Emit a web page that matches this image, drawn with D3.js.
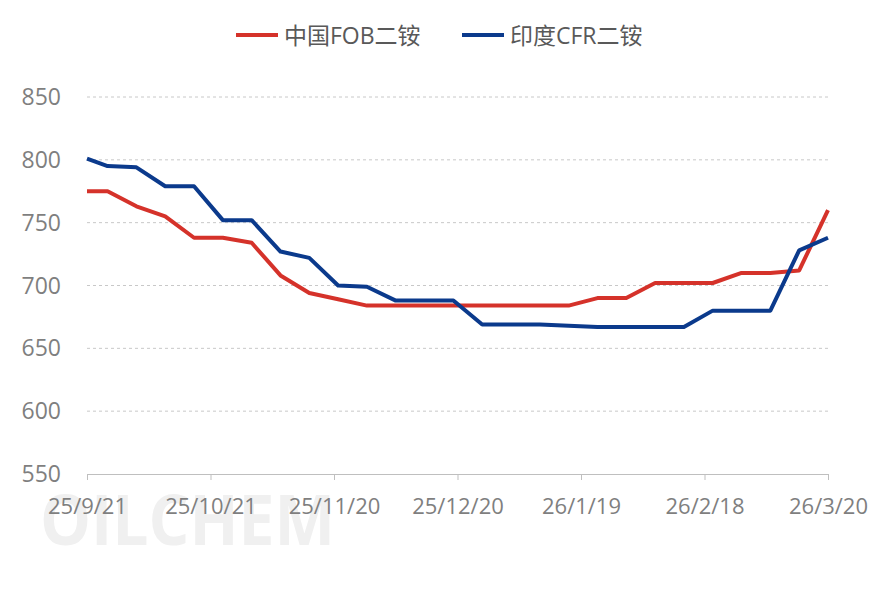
<!DOCTYPE html><html><head><meta charset="utf-8"><script src="https://cdn.jsdelivr.net/npm/d3@7"></script>
<style>body{margin:0;background:#fff}text{font-family:"Open Sans","Noto Sans CJK SC",sans-serif}</style></head><body><svg id="c" width="886" height="590"></svg><script>
const dates=["2025-09-21","2025-09-26","2025-10-03","2025-10-10","2025-10-17","2025-10-24","2025-10-31","2025-11-07","2025-11-14","2025-11-21","2025-11-28","2025-12-05","2025-12-12","2025-12-19","2025-12-26","2026-01-02","2026-01-09","2026-01-16","2026-01-23","2026-01-30","2026-02-06","2026-02-13","2026-02-20","2026-02-27","2026-03-06","2026-03-13","2026-03-20"];
const chinaFOB=[775,775,763,755,738,738,734,708,694,689,684,684,684,684,684,684,684,684,690,690,702,702,702,710,710,712,760];
const indiaCFR=[801,795,794,779,779,752,752,727,722,700,699,688,688,688,669,669,669,668,667,667,667,667,680,680,680,728,738];
const seriesNames=["中国FOB二铵","印度CFR二铵"];
const tickDates=["2025-09-21","2025-10-21","2025-11-20","2025-12-20","2026-01-19","2026-02-18","2026-03-20"];
const tickLabels=["25/9/21","25/10/21","25/11/20","25/12/20","26/1/19","26/2/18","26/3/20"];
const yTicks=[550,600,650,700,750,800,850];
const colors=["#d5322a","#0b3a8c"];
const svg=d3.select("#c"),p=d3.timeParse("%Y-%m-%d");
const x=d3.scaleTime().domain([p(dates[0]),p(dates[dates.length-1])]).range([87,828]);
const y=d3.scaleLinear().domain([550,850]).range([474,97]);
svg.append("text").attr("x",40).attr("y",545).attr("font-size",70).attr("font-weight","bold").attr("fill","#f0f0f0").attr("textLength",295).attr("lengthAdjust","spacingAndGlyphs").text("OILCHEM");
yTicks.filter(v=>v>550).forEach(v=>svg.append("line").attr("x1",87).attr("x2",828).attr("y1",y(v)).attr("y2",y(v)).attr("stroke","#c8c8c8").attr("stroke-dasharray","3,3"));
yTicks.forEach(v=>svg.append("text").attr("x",61).attr("y",y(v)+8).attr("text-anchor","end").attr("font-size",23).attr("fill","#7f7f7f").text(v));
const xa=svg.append("g").attr("transform","translate(0,474)").call(d3.axisBottom(x).tickValues(tickDates.map(p)).tickFormat((d,i)=>tickLabels[i]).tickSize(6).tickPadding(18));
xa.select(".domain").attr("stroke","#bfbfbf");xa.selectAll("line").attr("stroke","#bfbfbf");
xa.selectAll("text").attr("font-size",22).attr("fill","#7f7f7f");
[chinaFOB,indiaCFR].forEach((s,k)=>svg.append("path").datum(s).attr("fill","none").attr("stroke",colors[k]).attr("stroke-width",4).attr("stroke-linejoin","round")
 .attr("d",d3.line().x((d,i)=>x(p(dates[i]))).y(d=>y(d))));
[[236,seriesNames[0]],[462,seriesNames[1]]].forEach(([lx,t],k)=>{svg.append("line").attr("x1",lx).attr("x2",lx+42).attr("y1",35).attr("y2",35).attr("stroke",colors[k]).attr("stroke-width",4);
svg.append("text").attr("x",lx+48).attr("y",44).attr("font-size",23).attr("fill","#595959").text(t);});
</script></body></html>
